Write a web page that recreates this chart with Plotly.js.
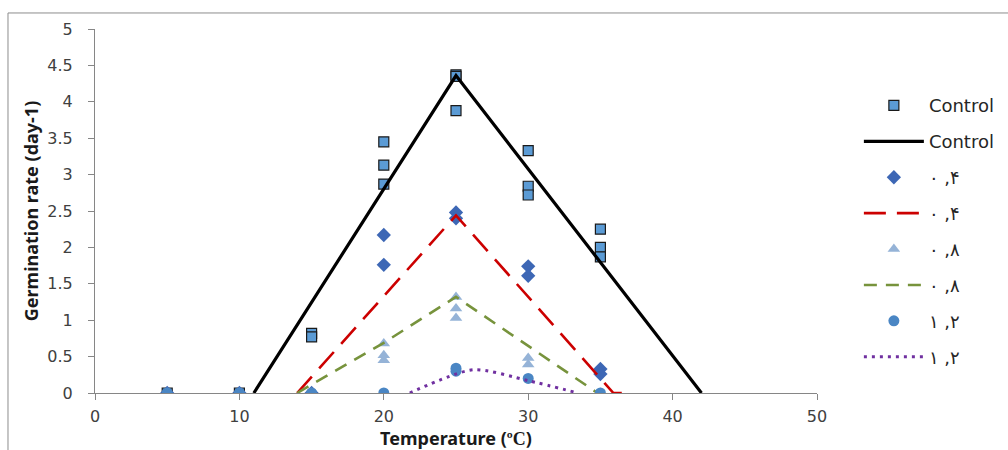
<!DOCTYPE html>
<html>
<head>
<meta charset="utf-8">
<script src="https://cdn.plot.ly/plotly-3.0.1.min.js"></script>
<style>
  html, body { margin: 0; padding: 0; background: #fff; }
  #chart { width: 1008px; height: 450px; }
</style>
</head>
<body>
<div id="chart"></div>
<script>
// ---- Data ----
const controlX = [5, 10, 15, 15, 20, 20, 20, 25, 25, 25, 30, 30, 30, 35, 35, 35];
const controlY = [0, 0, 0.82, 0.77, 3.45, 3.13, 2.87, 4.37, 4.35, 3.88, 3.33, 2.84, 2.72, 2.25, 2.0, 1.87];
const controlFitX = [11, 25, 42];
const controlFitY = [0, 4.36, 0];

const s04X = [5, 10, 15, 20, 20, 25, 25, 30, 30, 35, 35];
const s04Y = [0, 0, 0, 2.17, 1.76, 2.48, 2.40, 1.74, 1.61, 0.33, 0.26];
const fit04X = [14, 25, 35.9, 36.8];
const fit04Y = [0, 2.44, 0, 0];

const s08X = [5, 10, 15, 20, 20, 20, 25, 25, 25, 30, 30, 35];
const s08Y = [0, 0, 0, 0.68, 0.52, 0.45, 1.32, 1.16, 1.03, 0.48, 0.39, 0];
const fit08X = [14, 20, 25, 34.8];
const fit08Y = [0, 0.69, 1.32, 0];

const s12X = [5, 10, 15, 20, 25, 25, 30, 35];
const s12Y = [0, 0, 0, 0, 0.34, 0.30, 0.20, 0];
const fit12X = [21.8, 26.2, 30, 33.45];
const fit12Y = [0, 0.32, 0.17, 0];

const names = ["Control", "۰ ,۴", "۰ ,۸", "۱ ,۲"];
const xTicks = [0, 10, 20, 30, 40, 50];
const yTicks = [0, 0.5, 1, 1.5, 2, 2.5, 3, 3.5, 4, 4.5, 5];

// ---- Traces ----
const traces = [
  { x: controlX, y: controlY, mode: 'markers', type: 'scatter', name: names[0], legendgroup: 'a',
    marker: { symbol: 'square', size: 10, color: '#5B9BD5', line: { color: '#1a1a1a', width: 1.2 } } },
  { x: controlFitX, y: controlFitY, mode: 'lines', type: 'scatter', name: names[0], legendgroup: 'b',
    line: { color: '#000000', width: 3.2 } },
  { x: s04X, y: s04Y, mode: 'markers', type: 'scatter', name: names[1], legendgroup: 'c',
    marker: { symbol: 'diamond', size: 11, color: '#3D67B5' } },
  { x: fit04X, y: fit04Y, mode: 'lines', type: 'scatter', name: names[1], legendgroup: 'd',
    line: { color: '#CC0000', width: 2.6, dash: '22px,11px' } },
  { x: s08X, y: s08Y, mode: 'markers', type: 'scatter', name: names[2], legendgroup: 'e',
    marker: { symbol: 'triangle-up', size: 11, color: '#95B3D7' } },
  { x: fit08X, y: fit08Y, mode: 'lines', type: 'scatter', name: names[2], legendgroup: 'f',
    line: { color: '#77933C', width: 2.6, dash: '13px,9px' } },
  { x: s12X, y: s12Y, mode: 'markers', type: 'scatter', name: names[3], legendgroup: 'g',
    marker: { symbol: 'circle', size: 11, color: '#4A86C4' } },
  { x: fit12X, y: fit12Y, mode: 'lines', type: 'scatter', name: names[3], legendgroup: 'h',
    line: { color: '#7030A0', width: 3, dash: '3px,5px', shape: 'spline', smoothing: 0.7 } }
];

const axisFont = { family: 'DejaVu Sans, sans-serif', size: 16, color: '#404040' };
const titleFont = { family: 'Noto Sans, sans-serif', size: 18, color: '#1a1a1a', weight: 'bold' };

const layout = {
  width: 1008, height: 450,
  margin: { l: 95, r: 191, t: 29, b: 57, autoexpand: false },
  paper_bgcolor: '#ffffff', plot_bgcolor: '#ffffff',
  showlegend: true,
  legend: {
    x: 1.058, xanchor: 'left', y: 0.84, yanchor: 'top',
    font: { family: 'DejaVu Sans, sans-serif', size: 18, color: '#262626' },
    itemwidth: 60, tracegroupgap: 9.5, traceorder: 'grouped',
    bgcolor: 'rgba(0,0,0,0)'
  },
  xaxis: {
    range: [0, 50], tickvals: xTicks, ticktext: xTicks.map(String), automargin: false,
    showgrid: false, zeroline: false, showline: true, linecolor: '#868686', linewidth: 1,
    ticks: 'outside', ticklen: 6, tickcolor: '#868686', tickfont: axisFont, ticklabelstandoff: 3,
    title: { text: 'Temperature (<span style="font-family:Liberation Serif">ºC</span>)',
             font: titleFont, standoff: 0 }
  },
  yaxis: {
    range: [0, 5], tickvals: yTicks, ticktext: yTicks.map(String), automargin: false,
    showgrid: false, zeroline: false, showline: true, linecolor: '#868686', linewidth: 1,
    ticks: 'outside', ticklen: 6, tickcolor: '#868686', tickfont: axisFont, ticklabelstandoff: 12,
    title: { text: 'Germination rate (day-1)', font: titleFont, standoff: 4 }
  },
  shapes: [
    { type: 'rect', xref: 'paper', yref: 'paper', x0: -0.1205, x1: 2, y0: -1, y1: 1.044,
      line: { color: '#8c8c8c', width: 1 }, fillcolor: 'rgba(0,0,0,0)', layer: 'below' }
  ]
};

Plotly.newPlot('chart', traces, layout, { displayModeBar: false, staticPlot: true });
</script>
</body>
</html>
